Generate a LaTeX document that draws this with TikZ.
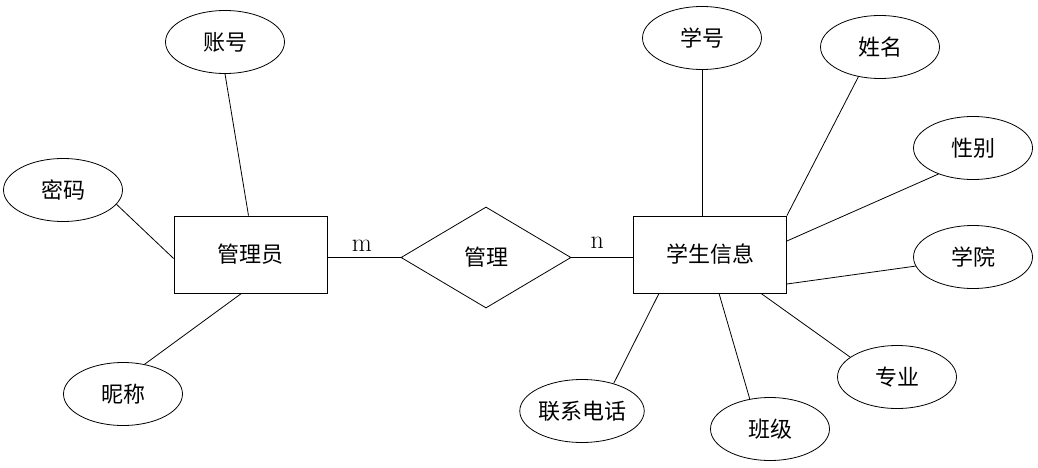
\documentclass[tikz,border=0pt]{standalone}
\usepackage{fontspec}
\newfontfamily\cjk{Noto Sans CJK SC}
\usetikzlibrary{shapes.geometric}

\begin{document}
\begin{tikzpicture}[x=1pt, y=-1pt, line width=0.8pt,
    attr/.style={draw, ellipse, minimum width=119pt, minimum height=63pt, inner sep=0pt, font=\cjk\fontsize{22}{26}\selectfont},
    entity/.style={draw, rectangle, minimum width=153pt, minimum height=77pt, inner sep=0pt, font=\cjk\fontsize{22}{26}\selectfont},
    relation/.style={draw, diamond, aspect=1.7, minimum width=170pt, minimum height=101pt, inner sep=0pt, font=\cjk\fontsize{22}{26}\selectfont},
    card/.style={inner sep=0pt, font=\fontsize{26}{26}\selectfont}]
    \fill[white] (0,0) rectangle (1038,468);
    \useasboundingbox (0,0) rectangle (1038,468);

    % entities and relation
    \node[entity] (admin) at (250.5,254.5) {管理员};
    \node[entity] (student) at (710,254.5) {学生信息};
    \node[relation] (manage) at (486,257.5) {管理};

    % attributes of admin
    \node[attr] (account) at (225,42) {账号};
    \node[attr] (password) at (63,190) {密码};
    \node[attr] (nickname) at (123,394) {昵称};

    % attributes of student
    \node[attr] (stuno) at (702,38) {学号};
    \node[attr] (name) at (880,47) {姓名};
    \node[attr] (gender) at (973,148) {性别};
    \node[attr] (college) at (973,257) {学院};
    \node[attr] (major) at (897,377) {专业};
    \node[attr] (class) at (770,429) {班级};
    \node[attr] (phone) at (582,411) {联系电话};

    % links
    \draw (admin.east |- manage.west) -- node[card, above=6pt, xshift=-2pt] (m) {m} (manage.west);
    \draw (manage.east) -- node[card, above=9pt, xshift=-5pt] (n) {n} (student.west |- manage.east);

    \draw (account.south) -- ([xshift=-2pt]admin.north);
    \draw (password.-15) -- ([yshift=-4pt]admin.west);
    \draw (nickname.54) -- ([xshift=-9pt]admin.south);

    \draw (stuno.south) -- ([xshift=-8pt]student.north);
    \draw (name.234) -- (student.north east);
    \draw (gender.217) -- ([yshift=13.5pt]student.east);
    \draw (college.189) -- ([yshift=-29.5pt]student.east);
    \draw (major.157) -- ([xshift=51pt]student.south);
    \draw (class.124) -- ([xshift=9pt]student.south);
    \draw (phone.41) -- ([xshift=-51pt]student.south);
\end{tikzpicture}
\end{document}
